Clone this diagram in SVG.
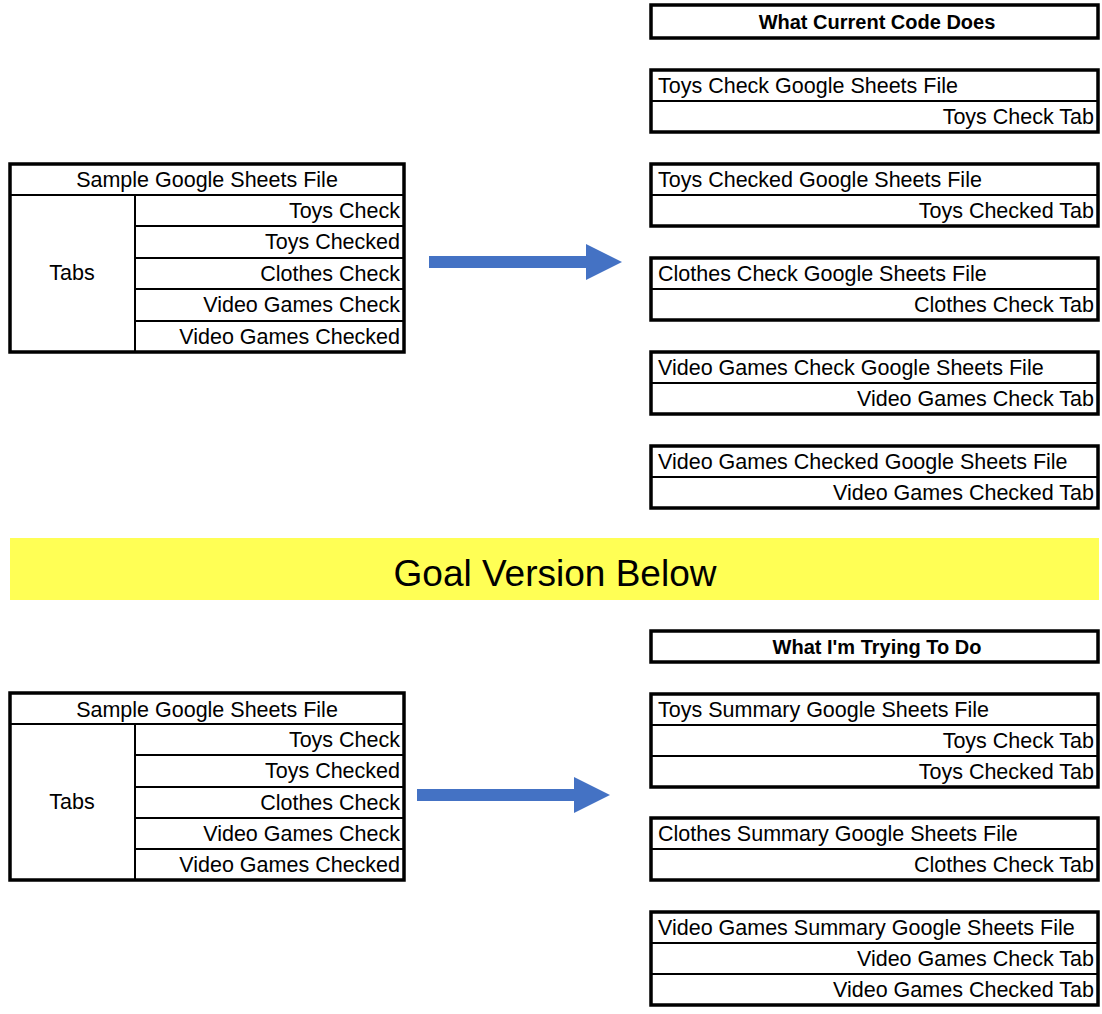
<svg xmlns="http://www.w3.org/2000/svg" width="1102" height="1014" viewBox="0 0 1102 1014">
<style>
.outer{fill:#fff;stroke:#000;stroke-width:3.5}
.inner{stroke:#000;stroke-width:2;fill:none}
.t{font-family:"Liberation Sans",Arial,sans-serif;font-size:21.5px;fill:#000}
.b{font-family:"Liberation Sans",Arial,sans-serif;font-size:20px;font-weight:bold;fill:#000}
.r{text-anchor:end}
.c{text-anchor:middle}
.arrow{fill:#4472C4}
</style>
<rect width="1102" height="1014" fill="#fff"/>

<g id="sample-top">
<rect class="outer" x="10" y="164" width="394" height="188"/>
<line class="inner" x1="10" y1="195" x2="404" y2="195"/>
<line class="inner" x1="135" y1="195" x2="135" y2="352"/>
<line class="inner" x1="135" y1="226" x2="404" y2="226"/>
<line class="inner" x1="135" y1="258" x2="404" y2="258"/>
<line class="inner" x1="135" y1="289" x2="404" y2="289"/>
<line class="inner" x1="135" y1="321" x2="404" y2="321"/>
<text class="t c" x="207" y="187">Sample Google Sheets File</text>
<text class="t c" x="72" y="280">Tabs</text>
<text class="t r" x="400" y="218">Toys Check</text>
<text class="t r" x="400" y="249">Toys Checked</text>
<text class="t r" x="400" y="281">Clothes Check</text>
<text class="t r" x="400" y="312">Video Games Check</text>
<text class="t r" x="400" y="344">Video Games Checked</text>
</g>

<g id="current-title">
<rect class="outer" x="651" y="5" width="447" height="33"/>
<text class="b c" x="877" y="29">What Current Code Does</text>
</g>

<g id="cur-toys-check">
<rect class="outer" x="651" y="70" width="447" height="62"/>
<line class="inner" x1="651" y1="101" x2="1098" y2="101"/>
<text class="t" x="658" y="93">Toys Check Google Sheets File</text>
<text class="t r" x="1094" y="124">Toys Check Tab</text>
</g>

<g id="cur-toys-checked">
<rect class="outer" x="651" y="164" width="447" height="62"/>
<line class="inner" x1="651" y1="195" x2="1098" y2="195"/>
<text class="t" x="658" y="187">Toys Checked Google Sheets File</text>
<text class="t r" x="1094" y="218">Toys Checked Tab</text>
</g>

<g id="cur-clothes-check">
<rect class="outer" x="651" y="258" width="447" height="62"/>
<line class="inner" x1="651" y1="289" x2="1098" y2="289"/>
<text class="t" x="658" y="281">Clothes Check Google Sheets File</text>
<text class="t r" x="1094" y="312">Clothes Check Tab</text>
</g>

<g id="cur-vg-check">
<rect class="outer" x="651" y="352" width="447" height="62"/>
<line class="inner" x1="651" y1="383" x2="1098" y2="383"/>
<text class="t" x="658" y="375">Video Games Check Google Sheets File</text>
<text class="t r" x="1094" y="406">Video Games Check Tab</text>
</g>

<g id="cur-vg-checked">
<rect class="outer" x="651" y="446" width="447" height="62"/>
<line class="inner" x1="651" y1="477" x2="1098" y2="477"/>
<text class="t" x="658" y="469">Video Games Checked Google Sheets File</text>
<text class="t r" x="1094" y="500">Video Games Checked Tab</text>
</g>

<g id="banner">
<rect x="10" y="538" width="1089" height="62" fill="#FFFF55"/>
<text class="c" x="555" y="586" font-family="Liberation Sans, Arial, sans-serif" font-size="37" fill="#000">Goal Version Below</text>
</g>

<g id="sample-bottom">
<rect class="outer" x="10" y="693" width="394" height="187"/>
<line class="inner" x1="10" y1="724" x2="404" y2="724"/>
<line class="inner" x1="135" y1="724" x2="135" y2="880"/>
<line class="inner" x1="135" y1="755" x2="404" y2="755"/>
<line class="inner" x1="135" y1="787" x2="404" y2="787"/>
<line class="inner" x1="135" y1="818" x2="404" y2="818"/>
<line class="inner" x1="135" y1="849" x2="404" y2="849"/>
<text class="t c" x="207" y="717">Sample Google Sheets File</text>
<text class="t c" x="72" y="809">Tabs</text>
<text class="t r" x="400" y="747">Toys Check</text>
<text class="t r" x="400" y="778">Toys Checked</text>
<text class="t r" x="400" y="810">Clothes Check</text>
<text class="t r" x="400" y="841">Video Games Check</text>
<text class="t r" x="400" y="872">Video Games Checked</text>
</g>

<g id="goal-title">
<rect class="outer" x="651" y="631" width="447" height="31"/>
<text class="b c" x="877" y="654">What I'm Trying To Do</text>
</g>

<g id="goal-toys">
<rect class="outer" x="651" y="694" width="447" height="93"/>
<line class="inner" x1="651" y1="725" x2="1098" y2="725"/>
<line class="inner" x1="651" y1="756" x2="1098" y2="756"/>
<text class="t" x="658" y="717">Toys Summary Google Sheets File</text>
<text class="t r" x="1094" y="748">Toys Check Tab</text>
<text class="t r" x="1094" y="779">Toys Checked Tab</text>
</g>

<g id="goal-clothes">
<rect class="outer" x="651" y="818" width="447" height="62"/>
<line class="inner" x1="651" y1="849" x2="1098" y2="849"/>
<text class="t" x="658" y="841">Clothes Summary Google Sheets File</text>
<text class="t r" x="1094" y="872">Clothes Check Tab</text>
</g>

<g id="goal-vg">
<rect class="outer" x="651" y="912" width="447" height="93"/>
<line class="inner" x1="651" y1="943" x2="1098" y2="943"/>
<line class="inner" x1="651" y1="974" x2="1098" y2="974"/>
<text class="t" x="658" y="935">Video Games Summary Google Sheets File</text>
<text class="t r" x="1094" y="966">Video Games Check Tab</text>
<text class="t r" x="1094" y="997">Video Games Checked Tab</text>
</g>

<g id="connectors">
<polygon class="arrow" points="429,256 586,256 586,244 622,262 586,280 586,268 429,268"/>
<polygon class="arrow" points="417,789 574,789 574,777 610,795 574,813 574,801 417,801"/>
</g>
</svg>
